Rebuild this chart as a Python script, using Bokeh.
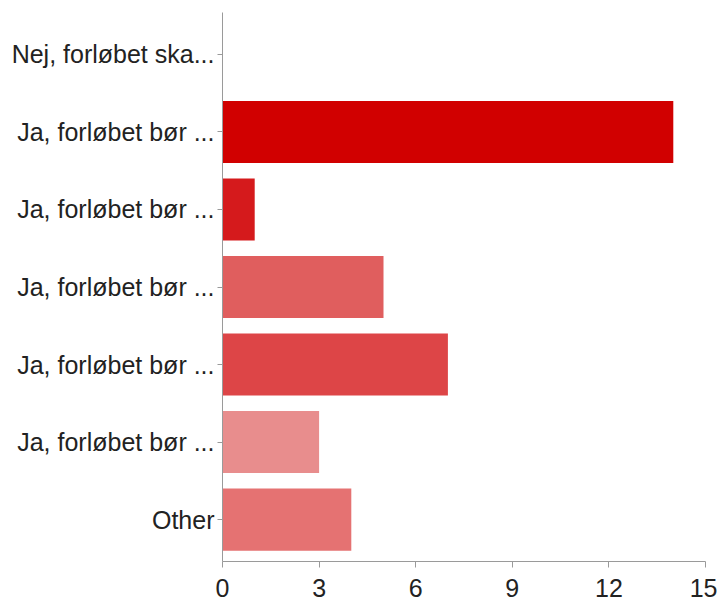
from bokeh.plotting import figure
from bokeh.models import FixedTicker, Range1d
from bokeh.embed import file_html
from bokeh.resources import INLINE

labels = ["Nej, forløbet ska...", "Ja, forløbet bør ...", "Ja, forløbet bør ...",
          "Ja, forløbet bør ...", "Ja, forløbet bør ...", "Ja, forløbet bør ...", "Other"]
values = [0, 14, 1, 5, 7, 3, 4]
colors = ["#D10000", "#D10000", "#D51A1C", "#E05E5E", "#DD4547", "#E88D8D", "#E57272"]
x_ticks = [0, 3, 6, 9, 12, 15]

positions = list(range(1, len(labels) + 1))

p = figure(width=717, height=600, output_backend="svg", toolbar_location=None,
           x_range=Range1d(0, 15), y_range=Range1d(len(labels) + 0.54, 0.46),
           min_border_left=222, min_border_right=12, min_border_top=12, min_border_bottom=39)

p.hbar(y=positions, right=values, left=0, height=0.8, color=colors, line_color=None)

p.xgrid.visible = False
p.ygrid.visible = False
p.outline_line_color = None

for ax in (p.xaxis[0], p.yaxis[0]):
    ax.axis_line_color = "#9a9a9a"
    ax.major_tick_line_color = "#9a9a9a"
    ax.minor_tick_line_color = None
    ax.major_tick_in = 0
    ax.major_label_text_font = "Liberation Sans"
    ax.major_label_text_font_size = "25px"
    ax.major_label_text_color = "#222222"

p.xaxis.ticker = FixedTicker(ticks=x_ticks)
p.xaxis.major_tick_out = 6
p.xaxis.major_label_standoff = 11

p.yaxis.ticker = FixedTicker(ticks=positions)
p.yaxis.major_label_overrides = {pos: lab for pos, lab in zip(positions, labels)}
p.yaxis.major_tick_out = 5
p.yaxis.major_label_standoff = 3

open("out.html", "w").write(file_html(p, INLINE))
